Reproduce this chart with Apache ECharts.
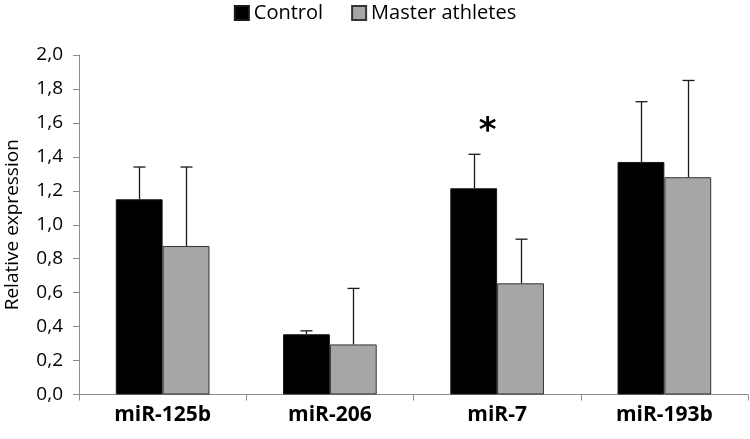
<!DOCTYPE html>
<html><head><meta charset="utf-8">
<script src="https://cdn.jsdelivr.net/npm/echarts@6/dist/echarts.min.js"></script>
<style>html,body{margin:0;padding:0;background:#fff}#c{width:750px;height:439px}</style>
</head><body><div id="c"></div>
<script>
const categories = ['miR-125b', 'miR-206', 'miR-7', 'miR-193b'];
const controlValues = [1.15, 0.355, 1.215, 1.37];
const controlErrTop = [1.34, 0.375, 1.415, 1.725];
const athleteValues = [0.875, 0.295, 0.655, 1.28];
const athleteErrTop = [1.34, 0.625, 0.915, 1.85];
const yTicks = [0, 0.2, 0.4, 0.6, 0.8, 1.0, 1.2, 1.4, 1.6, 1.8, 2.0];
const significance = { category: 'miR-7', value: 1.59, text: '*' };

const FONT = 'Open Sans';
const BAR_FRAC = 0.28;

function errSeries(name, vals, tops, side) {
  return {
    type: 'custom', name: name + ' err', silent: true, z: 5,
    data: categories.map((c, i) => [i, vals[i], tops[i]]),
    renderItem: function (params, api) {
      const i = api.value(0);
      const base = api.coord([i, api.value(1)]);
      const top = api.coord([i, api.value(2)]);
      const band = api.size([1, 0])[0];
      const x = Math.round(base[0] + side * band * BAR_FRAC / 2) + 0.5;
      const cap = 6;
      const st = { stroke: '#1a1a1a', lineWidth: 1.3 };
      return { type: 'group', children: [
        { type: 'line', shape: { x1: x, y1: base[1], x2: x, y2: top[1] }, style: st },
        { type: 'line', shape: { x1: x - cap, y1: top[1], x2: x + cap, y2: top[1] }, style: st }
      ]};
    }
  };
}

const chart = echarts.init(document.getElementById('c'), null, { renderer: 'canvas' });
chart.setOption({
  animation: false,
  textStyle: { fontFamily: FONT },
  legend: {
    top: 3, left: 'center', padding: 0, itemWidth: 14, itemHeight: 14, itemGap: 28,
    icon: 'rect',
    textStyle: { fontFamily: FONT, fontSize: 20, color: '#000' },
    data: ['Control', 'Master athletes']
  },
  grid: { left: 79, right: 2, top: 55, bottom: 44.5, containLabel: false, outerBoundsMode: 'none' },
  xAxis: {
    type: 'category', data: categories,
    axisLine: { lineStyle: { color: '#8c8c8c', width: 1 } },
    axisTick: { show: true, length: 6, lineStyle: { color: '#8c8c8c' } },
    axisLabel: { fontFamily: FONT, fontSize: 21, fontWeight: 'bold', color: '#000', margin: 10 }
  },
  yAxis: {
    type: 'value', min: 0, max: 2.0, interval: 0.2,
    name: 'Relative expression', nameLocation: 'middle', nameGap: 57, nameRotate: 90,
    nameTextStyle: { fontFamily: FONT, fontSize: 19, color: '#000' },
    axisLine: { show: true, lineStyle: { color: '#8c8c8c', width: 1 } },
    axisTick: { show: true, length: 6, lineStyle: { color: '#8c8c8c' } },
    splitLine: { show: false },
    axisLabel: {
      fontFamily: FONT, fontSize: 19, color: '#000', margin: 16,
      formatter: v => {
        const t = yTicks.find(t => Math.abs(t - v) < 1e-9);
        return (t === undefined ? v : t).toFixed(1).replace('.', ',');
      }
    }
  },
  series: [
    {
      name: 'Control', type: 'bar', data: controlValues,
      barWidth: (BAR_FRAC * 100) + '%', barGap: '0%',
      itemStyle: { color: '#000', borderColor: '#1a1a1a', borderWidth: 1 },
      markPoint: {
        symbol: 'circle', symbolSize: 0, silent: true,
        data: [{ coord: [significance.category, significance.value], value: significance.text }],
        label: { show: true, formatter: significance.text, fontSize: 34, fontWeight: 'bold', color: '#000', offset: [14, 8], fontFamily: 'DejaVu Sans' }
      }
    },
    {
      name: 'Master athletes', type: 'bar', data: athleteValues,
      barWidth: (BAR_FRAC * 100) + '%', barGap: '0%',
      itemStyle: { color: '#a6a6a6', borderColor: '#333', borderWidth: 1 }
    },
    errSeries('Control', controlValues, controlErrTop, -1),
    errSeries('Master athletes', athleteValues, athleteErrTop, 1)
  ]
});
</script></body></html>
